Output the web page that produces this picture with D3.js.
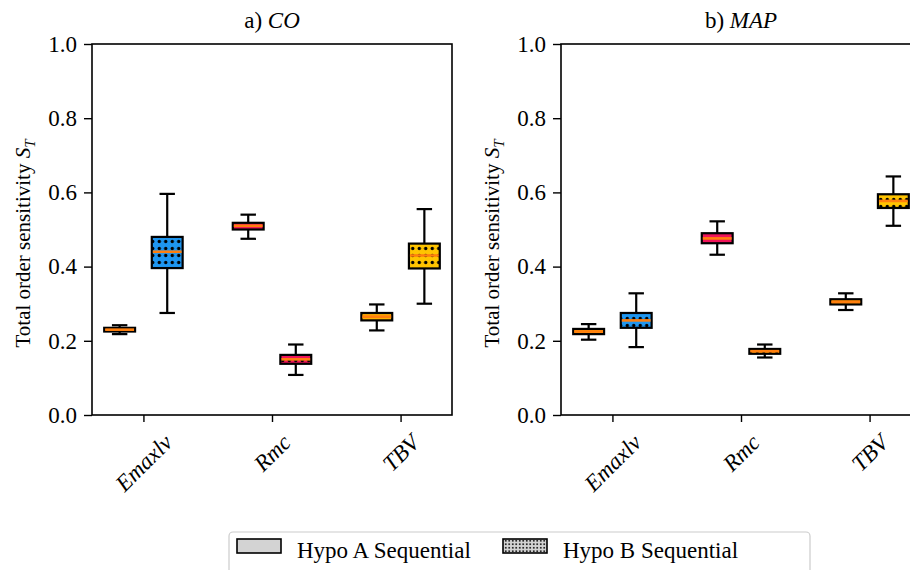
<!DOCTYPE html>
<html>
<head>
<meta charset="utf-8">
<script src="https://cdn.jsdelivr.net/npm/d3@7"></script>
<style>
  body { margin: 0; background: #fff; }
  svg { display: block; }
  text { font-family: "Liberation Serif", "DejaVu Serif", serif; }
</style>
</head>
<body>
<svg id="chart" width="910" height="570"></svg>
<script>
// ---- data ----
const categories = ["Emaxlv", "Rmc", "TBV"];
const panelTitles = ["CO", "MAP"];
const panelLetters = ["a)", "b)"];
const yTicks = [0.0, 0.2, 0.4, 0.6, 0.8, 1.0];
const seriesNames = ["Hypo A Sequential", "Hypo B Sequential"];

// five-number summaries: [whiskerLow, q1, median, q3, whiskerHigh]
const coHypoA = [
  [0.218, 0.225, 0.230, 0.235, 0.242],
  [0.475, 0.500, 0.510, 0.518, 0.540],
  [0.228, 0.255, 0.265, 0.275, 0.298]
];
const coHypoB = [
  [0.275, 0.396, 0.440, 0.480, 0.596],
  [0.108, 0.138, 0.150, 0.162, 0.190],
  [0.300, 0.395, 0.430, 0.462, 0.555]
];
const mapHypoA = [
  [0.203, 0.218, 0.225, 0.232, 0.245],
  [0.432, 0.463, 0.476, 0.490, 0.522],
  [0.283, 0.298, 0.305, 0.312, 0.328]
];
const mapHypoB = [
  [0.183, 0.235, 0.255, 0.275, 0.328],
  [0.155, 0.165, 0.172, 0.178, 0.190],
  [0.510, 0.558, 0.577, 0.595, 0.643]
];
const coColorsA = ["#ffa200", "#f0145a", "#ffb000"];
const coColorsB = ["#1e96f0", "#f0145a", "#ffc400"];
const mapColorsA = ["#ffa200", "#f0145a", "#ff9a00"];
const mapColorsB = ["#1e96f0", "#ffa200", "#ffc400"];

const panelData = [
  { title: panelTitles[0], letter: panelLetters[0], A: coHypoA, B: coHypoB, cA: coColorsA, cB: coColorsB },
  { title: panelTitles[1], letter: panelLetters[1], A: mapHypoA, B: mapHypoB, cA: mapColorsA, cB: mapColorsB }
];

// ---- layout ----
const svg = d3.select("#chart");
const yTop = 44, yBottom = 415;
const panelLeft = [92, 561];
const panelWidth = 360;
const medianColor = "#ff7f0e";
const offset = 0.185, boxW = 0.24;
const fs = 23;

const y = d3.scaleLinear().domain([0, 1]).range([yBottom, yTop]);

// patterns
const defs = svg.append("defs");
const allColors = Array.from(new Set([...coColorsB, ...mapColorsB]));
const patId = c => "dots" + c.replace("#", "");
allColors.forEach(c => {
  const p = defs.append("pattern").attr("id", patId(c))
    .attr("patternUnits", "userSpaceOnUse").attr("width", 6.5).attr("height", 7);
  p.append("rect").attr("width", 6.5).attr("height", 7).attr("fill", c);
  p.append("circle").attr("cx", 3.25).attr("cy", 3.5).attr("r", 1.7).attr("fill", "#000");
});
{
  const p = defs.append("pattern").attr("id", "legdots")
    .attr("patternUnits", "userSpaceOnUse").attr("width", 3.5).attr("height", 3.5);
  p.append("rect").attr("width", 3.5).attr("height", 3.5).attr("fill", "#d3d3d3");
  p.append("circle").attr("cx", 1.75).attr("cy", 1.75).attr("r", 0.95).attr("fill", "#000");
}

panelData.forEach((pd, pi) => {
  const x0 = panelLeft[pi];
  const x = d3.scaleLinear().domain([0.6, 3.4]).range([x0, x0 + panelWidth]);
  const g = svg.append("g");

  const drawBox = (stats, pos, fill, hatched) => {
    const [lo, q1, med, q3, hi] = stats;
    const cx = x(pos);
    const half = (x(pos + boxW / 2) - x(pos - boxW / 2)) / 2;
    const capHalf = half / 2;
    const bg = g.append("g");
    bg.append("line").attr("x1", cx).attr("x2", cx).attr("y1", y(hi)).attr("y2", y(q3))
      .attr("stroke", "#000").attr("stroke-width", 2.2);
    bg.append("line").attr("x1", cx).attr("x2", cx).attr("y1", y(q1)).attr("y2", y(lo))
      .attr("stroke", "#000").attr("stroke-width", 2.2);
    [lo, hi].forEach(v => bg.append("line").attr("x1", cx - capHalf).attr("x2", cx + capHalf)
      .attr("y1", y(v)).attr("y2", y(v)).attr("stroke", "#000").attr("stroke-width", 2.2));
    bg.append("rect").attr("x", cx - half).attr("width", 2 * half)
      .attr("y", y(q3)).attr("height", y(q1) - y(q3))
      .attr("fill", hatched ? `url(#${patId(fill)})` : fill)
      .attr("stroke", "#000").attr("stroke-width", 2.2);
    bg.append("line").attr("x1", cx - half + 1).attr("x2", cx + half - 1)
      .attr("y1", y(med)).attr("y2", y(med)).attr("stroke", medianColor).attr("stroke-width", 2.6);
  };
  categories.forEach((c, i) => {
    drawBox(pd.A[i], i + 1 - offset, pd.cA[i], false);
    drawBox(pd.B[i], i + 1 + offset, pd.cB[i], true);
  });

  g.append("rect").attr("x", x0).attr("y", yTop).attr("width", panelWidth).attr("height", yBottom - yTop)
    .attr("fill", "none").attr("stroke", "#000").attr("stroke-width", 1.6);

  const ya = g.append("g").attr("transform", `translate(${x0},0)`)
    .call(d3.axisLeft(y).tickValues(yTicks).tickFormat(d3.format(".1f")).tickSize(8).tickPadding(7));
  ya.select(".domain").remove();
  ya.selectAll(".tick line").attr("stroke", "#000").attr("stroke-width", 1.4);
  ya.selectAll(".tick text").attr("font-size", fs).attr("fill", "#000")
    .style("font-family", "Liberation Serif, serif");

  const xa = g.append("g").attr("transform", `translate(0,${yBottom})`)
    .call(d3.axisBottom(x).tickValues([1, 2, 3]).tickFormat((d, i) => categories[i]).tickSize(7));
  xa.select(".domain").remove();
  xa.selectAll(".tick line").attr("stroke", "#000").attr("stroke-width", 1.4);
  xa.selectAll(".tick text").each(function () {
    const t = d3.select(this);
    t.attr("font-size", fs).attr("font-style", "italic").attr("fill", "#000")
      .style("font-family", "Liberation Serif, serif")
      .attr("text-anchor", "middle").attr("dy", null).attr("y", 0)
      .attr("dominant-baseline", "central");
    const w = this.getComputedTextLength();
    const hh = (w + 16) * Math.SQRT1_2 / 2;
    t.attr("transform", `translate(0,${18 + hh}) rotate(-45)`);
  });

  const tt = g.append("text").attr("x", x0 + panelWidth / 2).attr("y", 28)
    .attr("text-anchor", "middle").attr("font-size", fs).attr("fill", "#000");
  tt.append("tspan").text(pd.letter + " ");
  tt.append("tspan").attr("font-style", "italic").text(pd.title);

  const yl = g.append("text").attr("transform", `translate(${x0 - 62},${(yTop + yBottom) / 2 + 14}) rotate(-90)`)
    .attr("text-anchor", "middle").attr("font-size", 21).attr("fill", "#000");
  yl.append("tspan").text("Total order sensitivity ");
  yl.append("tspan").attr("font-style", "italic").text("S");
  yl.append("tspan").attr("font-style", "italic").attr("font-size", 15).attr("dy", 5).text("T");
});

// legend
const lg = svg.append("g");
lg.append("rect").attr("x", 229).attr("y", 532).attr("width", 581).attr("height", 50).attr("rx", 4)
  .attr("fill", "#fff").attr("stroke", "#cccccc").attr("stroke-width", 1.2);
const legX = [237, 503];
seriesNames.forEach((s, i) => {
  lg.append("rect").attr("x", legX[i]).attr("y", 539).attr("width", 44).attr("height", 14)
    .attr("fill", i === 0 ? "#d3d3d3" : "url(#legdots)")
    .attr("stroke", "#000").attr("stroke-width", 1.6);
  lg.append("text").attr("x", legX[i] + 60).attr("y", 558).attr("font-size", fs).attr("fill", "#000").text(s);
});
</script>
</body>
</html>
